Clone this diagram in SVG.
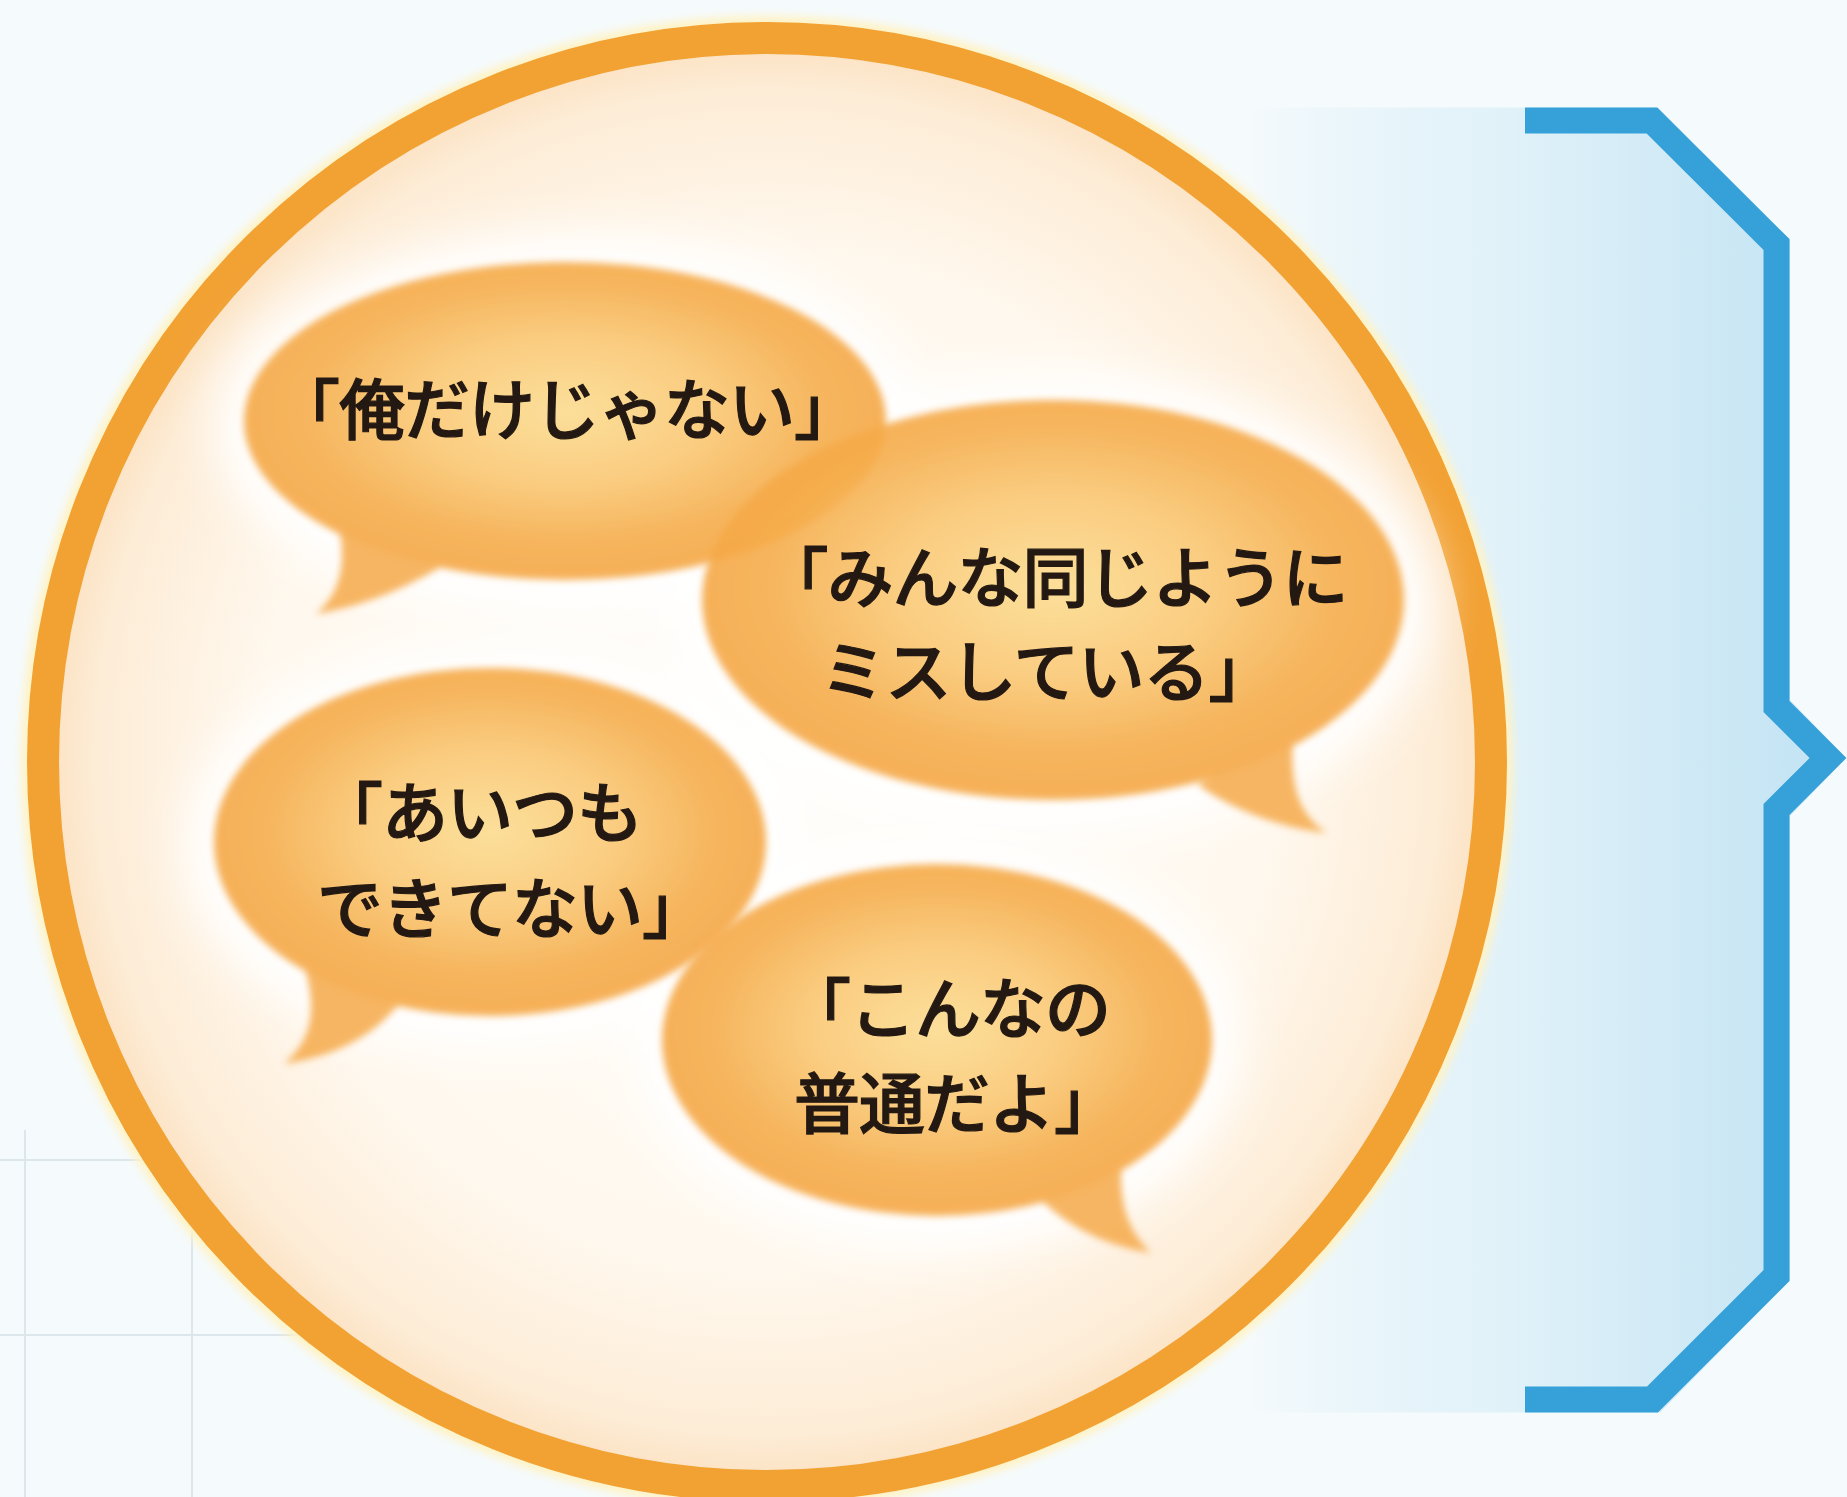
<svg xmlns="http://www.w3.org/2000/svg" width="1847" height="1497" viewBox="0 0 1847 1497">
  <defs>
    <style>
      .grid { stroke: #dde6ea; stroke-width: 2; fill: none; }
      .brace { fill: none; stroke: #35a1d8; stroke-width: 26; stroke-linejoin: miter; stroke-miterlimit: 4; }
      .ring { fill: url(#innerFill); stroke: #f2a133; stroke-width: 32; }
      .glow { fill: #ffffff; opacity: 1; filter: url(#bigBlur); }
      .bubble { opacity: 0.9; filter: url(#softEdge); }
      .tail { fill: #f6ae52; }
      .say { font-family: "Noto Sans CJK JP", "Noto Sans CJK SC", sans-serif; font-weight: 500; font-size: 66px; letter-spacing: -1px; fill: #231912; stroke: #231912; stroke-width: 1.2px; dominant-baseline: central; }
    </style>
    <linearGradient id="panelGrad" gradientUnits="userSpaceOnUse" x1="1250" y1="0" x2="1790" y2="0">
      <stop offset="0" stop-color="#d6eef8" stop-opacity="0"/>
      <stop offset="0.45" stop-color="#e2f2f9" stop-opacity="1"/>
      <stop offset="1" stop-color="#c6e5f4"/>
    </linearGradient>
    <radialGradient id="innerFill" cx="0.5" cy="0.5" r="0.5">
      <stop offset="0" stop-color="#fffefb"/>
      <stop offset="0.7" stop-color="#fff8ee"/>
      <stop offset="0.93" stop-color="#fdecd6"/>
      <stop offset="0.98" stop-color="#fce4c6"/>
      <stop offset="1" stop-color="#fdecbd"/>
    </radialGradient>
    <radialGradient id="bubbleGrad" cx="0.5" cy="0.47" r="0.5">
      <stop offset="0" stop-color="#fcdc90"/>
      <stop offset="0.45" stop-color="#fac874"/>
      <stop offset="0.82" stop-color="#f6ad4c"/>
      <stop offset="1" stop-color="#f5a846"/>
    </radialGradient>
    <filter id="bigBlur" x="-30%" y="-30%" width="160%" height="160%">
      <feGaussianBlur stdDeviation="24"/>
    </filter>
    <filter id="softEdge" x="-10%" y="-10%" width="120%" height="120%">
      <feGaussianBlur stdDeviation="3.5"/>
    </filter>
    <filter id="haloBlur" x="-10%" y="-10%" width="120%" height="120%">
      <feGaussianBlur stdDeviation="4"/>
    </filter>
  </defs>

  <rect id="background" x="0" y="0" width="1847" height="1497" fill="#f5fafc"/>

  <g id="grid">
    <line class="grid" x1="25" y1="1130" x2="25" y2="1497"/>
    <line class="grid" x1="192" y1="1160" x2="192" y2="1497"/>
    <line class="grid" x1="0" y1="1160" x2="220" y2="1160"/>
    <line class="grid" x1="0" y1="1335" x2="420" y2="1335"/>
  </g>

  <g id="panel">
    <polygon points="1250,107.5 1657,107.5 1790,240 1790,700 1846,758 1790,816 1790,1280 1660,1412.5 1250,1412.5" fill="url(#panelGrad)"/>
  </g>

  <g id="brace">
    <path class="brace" d="M1525,120.5 H1652 L1776.5,244.5 V706.5 L1828,758 L1776.5,809.5 V1275.5 L1652.5,1399.5 H1525"/>
  </g>

  <g id="circle">
    <circle cx="767" cy="762" r="724" fill="none" stroke="#fff3c4" stroke-width="44" filter="url(#haloBlur)"/>
    <circle class="ring" cx="767" cy="762" r="724"/>
  </g>

  <g id="glows">
    <ellipse class="glow" cx="565" cy="425" rx="350" ry="190"/>
    <ellipse class="glow" cx="1053" cy="605" rx="380" ry="230"/>
    <ellipse class="glow" cx="490" cy="847" rx="305" ry="203"/>
    <ellipse class="glow" cx="937" cy="1045" rx="303" ry="205"/>
  </g>

  <g id="bubble-1">
    <g class="bubble">
      <path class="tail" d="M336,515 C348,560 342,592 316,614 C360,606 402,592 452,560 Z"/>
      <ellipse cx="565" cy="421" rx="321" ry="159" fill="url(#bubbleGrad)"/>
    </g>
    <text class="say" x="274" y="405">「俺だけじゃない」</text>
  </g>

  <g id="bubble-2">
    <g class="bubble">
      <path class="tail" d="M1293,738 C1290,790 1300,815 1327,833 C1290,829 1240,815 1198,785 Z"/>
      <ellipse cx="1053" cy="600" rx="351" ry="200" fill="url(#bubbleGrad)"/>
    </g>
    <text class="say" x="1055" y="573" text-anchor="middle">「みんな同じように</text>
    <text class="say" x="1047" y="667" text-anchor="middle">ミスしている」</text>
  </g>

  <g id="bubble-3">
    <g class="bubble">
      <path class="tail" d="M303,962 C318,1010 312,1040 284,1064 C332,1056 372,1040 404,998 Z"/>
      <ellipse cx="490" cy="842" rx="276" ry="174" fill="url(#bubbleGrad)"/>
    </g>
    <text class="say" x="317" y="808">「あいつも</text>
    <text class="say" x="317" y="904">できてない」</text>
  </g>

  <g id="bubble-4">
    <g class="bubble">
      <path class="tail" d="M1122,1155 C1118,1205 1128,1230 1151,1253 C1115,1247 1073,1233 1036,1195 Z"/>
      <ellipse cx="937" cy="1040" rx="275" ry="176" fill="url(#bubbleGrad)"/>
    </g>
    <text class="say" x="785" y="1004">「こんなの</text>
    <text class="say" x="794" y="1099">普通だよ」</text>
  </g>
</svg>
